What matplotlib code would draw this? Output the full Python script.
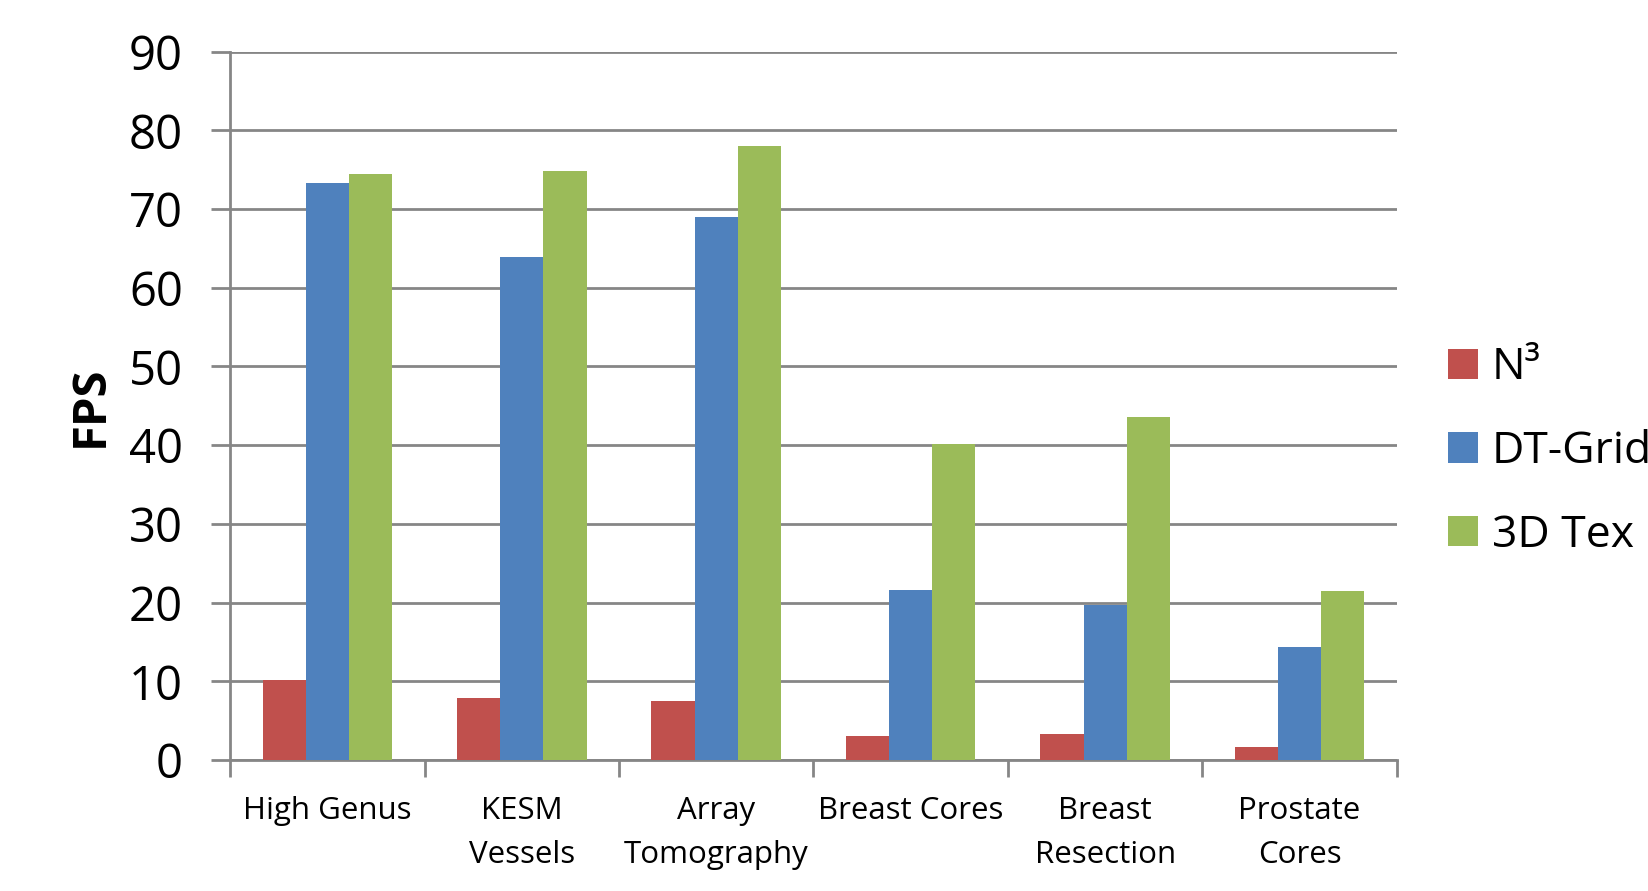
import numpy as np
import matplotlib
matplotlib.use('Agg')
import matplotlib.pyplot as plt
from matplotlib.patches import Patch

plt.rcParams['font.family'] = ['Open Sans', 'DejaVu Sans']

# data
categories = ['High Genus', 'KESM\nVessels', 'Array\nTomography', 'Breast Cores',
              'Breast\nResection', 'Prostate\nCores']
series_names = ['N³', 'DT-Grid', '3D Tex']
n3 = [10.2, 7.9, 7.5, 3.0, 3.3, 1.6]
dt_grid = [73.3, 63.9, 69.0, 21.6, 19.7, 14.3]
tex3d = [74.5, 74.8, 78.0, 40.2, 43.6, 21.5]
colors = ['#C0504D', '#4F81BD', '#9BBB59']

grid_color = '#868686'

fig = plt.figure(figsize=(16.48, 8.91), dpi=100)
ax = fig.add_axes([0.1396, 0.147, 0.708, 0.795])

x = np.arange(len(categories))
w = 0.222
for i, (vals, c) in enumerate(zip([n3, dt_grid, tex3d], colors)):
    ax.bar(x + (i - 1) * w, vals, width=w, color=c, edgecolor='none', zorder=3)

ax.set_xlim(-0.5, len(categories) - 0.5)
ax.set_ylim(0, 90)
ax.set_yticks(np.arange(0, 91, 10))
ax.yaxis.grid(True, color=grid_color, linewidth=2, zorder=0)
ax.set_axisbelow(True)

for side in ['top', 'right']:
    ax.spines[side].set_visible(False)
for side in ['left', 'bottom']:
    ax.spines[side].set_color(grid_color)
    ax.spines[side].set_linewidth(2)

ax.tick_params(axis='y', labelsize=34, length=14, width=2, color=grid_color, pad=20)
ax.set_xticks(x)
ax.set_xticklabels(categories, fontsize=22.5, linespacing=1.62)
ax.tick_params(axis='x', which='major', length=0, pad=26)
ax.set_xticks(np.arange(-0.5, len(categories)), minor=True)
ax.tick_params(axis='x', which='minor', length=12, width=2, color=grid_color)

ax.set_ylabel('FPS', fontsize=34, fontweight='bold', labelpad=11)

handles = [Patch(facecolor=c, edgecolor='none') for c in colors]
fig.legend(handles, series_names, loc='center left', bbox_to_anchor=(0.868, 0.493),
           frameon=False, fontsize=32, handlelength=0.68, handleheight=0.68,
           handletextpad=0.3, labelspacing=0.88, borderaxespad=0)

fig.savefig('out.png', dpi=100)
